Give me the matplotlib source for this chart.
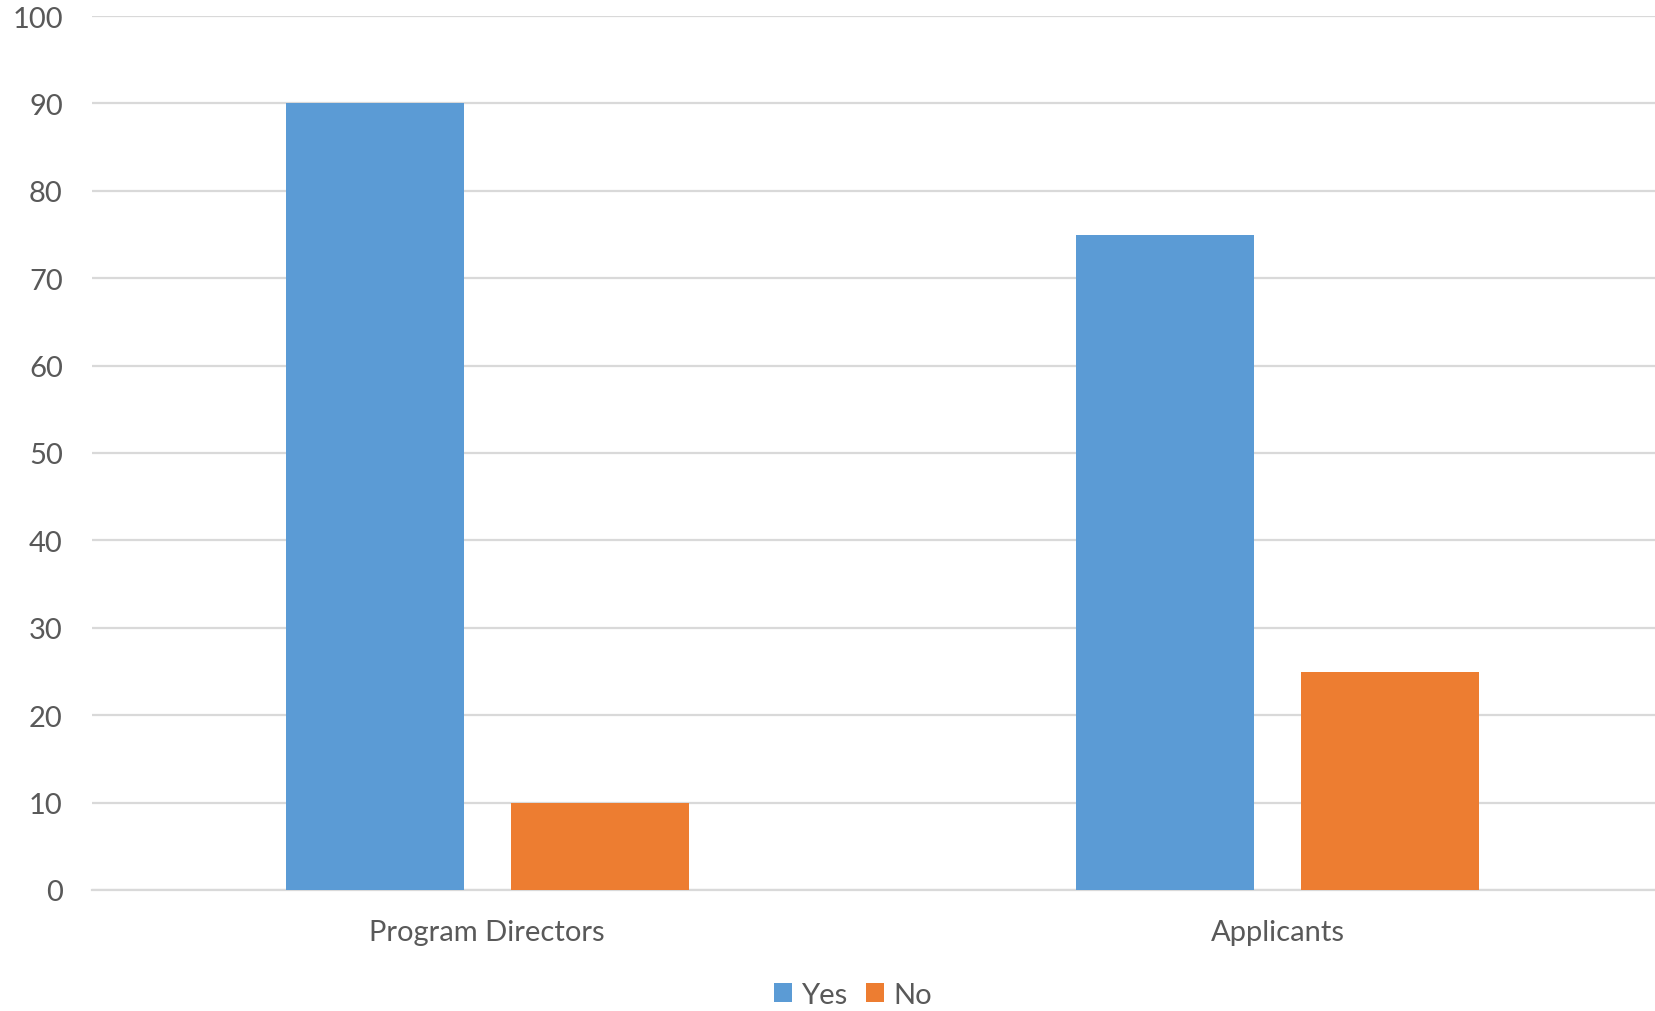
import matplotlib
matplotlib.use("Agg")
import matplotlib.pyplot as plt
import numpy as np

categories = ["Program Directors", "Applicants"]
series_names = ["Yes", "No"]
yes_values = [90, 75]
no_values = [10, 25]
y_ticks = [0, 10, 20, 30, 40, 50, 60, 70, 80, 90, 100]

plt.rcParams['font.family'] = ['Lato', 'DejaVu Sans']
text_color = "#595959"
colors = ["#5B9BD5", "#ED7D31"]

fig = plt.figure(figsize=(16.56, 10.12), dpi=100)
W, H = 1656, 1012
left, right, top, bottom = 92, 1673, 17, 891
ax = fig.add_axes([left / W, 1 - bottom / H, (right - left) / W, (bottom - top) / H])

x = np.arange(len(categories))
bw = 0.225
off = 0.1425
ax.bar(x - off, yes_values, bw, color=colors[0], label=series_names[0], zorder=3)
ax.bar(x + off, no_values, bw, color=colors[1], label=series_names[1], zorder=3)

ax.set_xlim(-0.5, 1.5)
ax.set_ylim(0, 100)
ax.set_yticks(y_ticks)
ax.set_xticks(x)
ax.set_xticklabels(categories)
ax.grid(axis='y', color="#d9d9d9", linewidth=1.6, zorder=0)
ax.set_axisbelow(True)
for s in ["top", "right", "left"]:
    ax.spines[s].set_visible(False)
ax.spines["bottom"].set_color("#d9d9d9")
ax.spines["bottom"].set_linewidth(1.6)
ax.tick_params(axis='y', length=0, pad=21, labelsize=21, labelcolor=text_color)
ax.tick_params(axis='x', length=0, pad=21, labelsize=21, labelcolor=text_color)

leg = fig.legend(loc='center', bbox_to_anchor=(853 / W, 1 - 996 / H), ncol=2,
                 frameon=False, fontsize=21, handlelength=0.62, handleheight=0.62,
                 handletextpad=0.3, columnspacing=0.65)
for t in leg.get_texts():
    t.set_color(text_color)

fig.savefig("out.png", dpi=100, facecolor="white")
